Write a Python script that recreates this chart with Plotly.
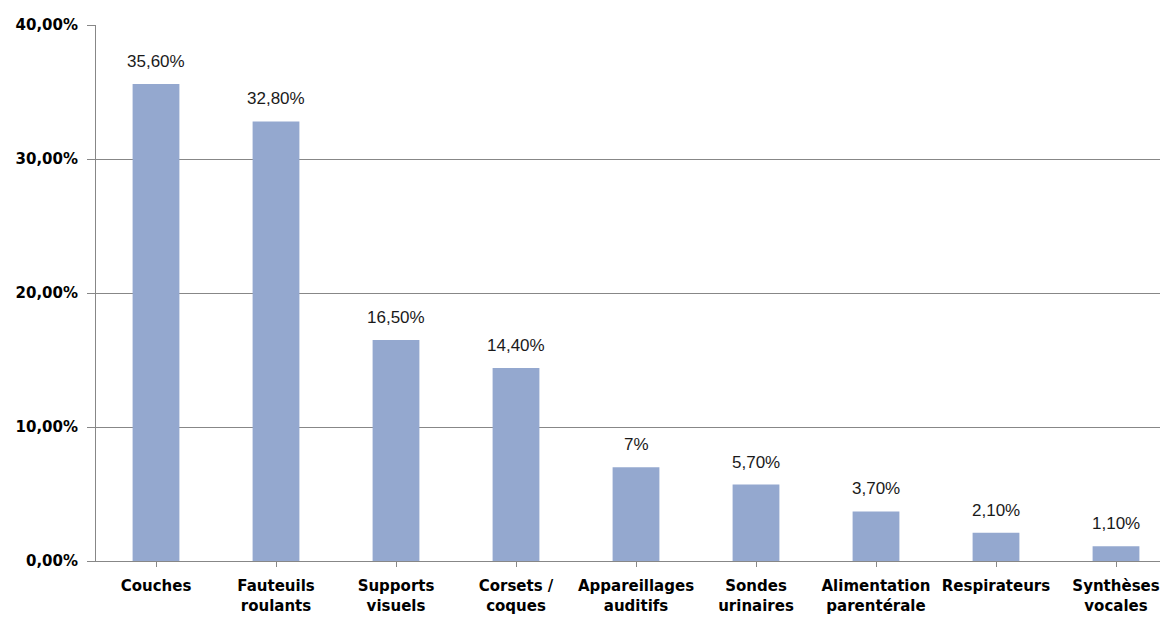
import plotly.graph_objects as go

categories = ["Couches", "Fauteuils<br>roulants", "Supports<br>visuels", "Corsets /<br>coques",
              "Appareillages<br>auditifs", "Sondes<br>urinaires", "Alimentation<br>parentérale",
              "Respirateurs", "Synthèses<br>vocales"]
values = [35.6, 32.8, 16.5, 14.4, 7.0, 5.7, 3.7, 2.1, 1.1]
y_ticks = [0, 10, 20, 30, 40]
y_tick_labels = ["0,00%", "10,00%", "20,00%", "30,00%", "40,00%"]


def fr_pct(v):
    if float(v).is_integer():
        return f"{int(v)}%"
    return f"{v:.2f}".replace(".", ",") + "%"


x = list(range(len(categories)))
bar_color = "#94A8CF"
grid = "#878787"

fig = go.Figure(go.Bar(x=x, y=values, marker=dict(color=bar_color, line=dict(width=0)),
                       width=0.39, hoverinfo="skip"))

for xi, v in zip(x, values):
    fig.add_annotation(x=xi, y=v, text=fr_pct(v), showarrow=False, yanchor="bottom",
                       yshift=11, font=dict(family="Liberation Sans", size=17, color="#1a1a1a"))

fig.update_layout(
    width=1160, height=623,
    margin=dict(l=96, r=0, t=25, b=62),
    plot_bgcolor="white", paper_bgcolor="white",
    showlegend=False, bargap=0.61,
    xaxis=dict(
        tickmode="array", tickvals=x, ticktext=categories,
        range=[-0.5, len(categories) - 0.5 - 16 / 120],
        showgrid=False, showline=True, linecolor=grid, linewidth=1,
        ticks="outside", tickson="boundaries", ticklen=5, tickcolor=grid,
        ticklabelstandoff=6,
        tickfont=dict(family="DejaVu Sans", size=15, color="black", weight="bold"),
    ),
    yaxis=dict(
        range=[0, 40], tickmode="array", tickvals=y_ticks, ticktext=y_tick_labels,
        showgrid=True, gridcolor=grid, gridwidth=1,
        showline=True, linecolor=grid, linewidth=1,
        ticks="outside", ticklen=8, tickcolor=grid, zeroline=False,
        ticklabelstandoff=6,
        tickfont=dict(family="DejaVu Sans", size=15, color="black", weight="bold"),
    ),
)

fig.write_html("out.html")
